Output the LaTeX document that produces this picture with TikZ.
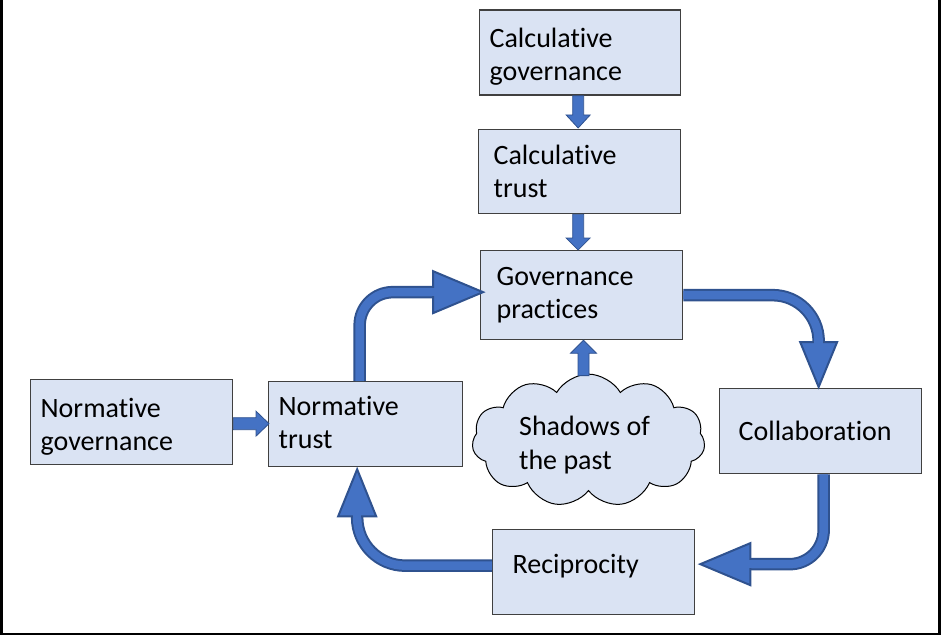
\documentclass[tikz,border=0pt]{standalone}
\usepackage{fontspec}
\setmainfont{Carlito}[RawFeature={-liga}]
\usetikzlibrary{calc,shapes.symbols}
\definecolor{boxfill}{HTML}{DAE3F3}
\definecolor{boxline}{HTML}{404040}
\definecolor{arrfill}{HTML}{4472C4}
\definecolor{arrline}{HTML}{2F528F}
\newcommand{\upstrut}[1]{\rule{0pt}{#1pt}}
\newcommand{\dnstrut}[1]{\rule[-#1pt]{0pt}{0pt}}
\begin{document}
\begin{tikzpicture}[x=1pt,y=-1pt,
  box/.style={draw=boxline, fill=boxfill, line width=1.3pt, inner ysep=0pt,
    minimum height=85pt, align=left, anchor=north west,
    font=\fontsize{28}{33}\selectfont},
  smallarr/.style={fill=arrfill, draw=arrline, line width=0.8pt, line join=miter},
  bigshaft/.style={draw=arrline, line width=2pt, double=arrfill, double distance=8.5pt},
  bighead/.style={fill=arrfill, draw=arrline, line width=2pt, line join=miter},
  bigcover/.style={draw=arrfill, line width=8.5pt}]
\useasboundingbox (0,0) rectangle (941,636);
\draw[line width=2.5pt, black] (1.5,-10) rectangle (939.5,634);

% boxes
\node[box, inner xsep=10pt, text width=181pt] (cg) at (479,9.5) {\upstrut{28}Calculative\\governance};
\node[box, inner xsep=15pt, text width=172pt, minimum height=84pt] (ct) at (478,129) {Calculative\\trust};
\node[box, inner xsep=16pt, text width=170pt, minimum height=89pt] (gp) at (480,250) {Governance\\practices};
\node[box, inner xsep=10pt, text width=182pt] (ng) at (30,379) {\upstrut{28}Normative\\governance};
\node[box, inner xsep=10pt, text width=174pt] (nt) at (268,381) {Normative\\trust\dnstrut{4}};
\node[box, inner xsep=19pt, text width=164pt] (co) at (719,388) {Collaboration};
\node[box, inner xsep=20pt, text width=162pt] (re) at (492,529) {Reciprocity\dnstrut{16}};
\node[cloud, cloud puffs=11, cloud puff arc=120, aspect=2.1, cloud ignores aspect,
  minimum width=233pt, minimum height=111pt, draw=black, fill=boxfill, line width=1pt,
  align=left, font=\fontsize{28}{34}\selectfont] (cl) at (588.5,440.5) {\upstrut{28}Shadows of\hspace*{8pt}\\the past};

% small straight arrows
\coordinate (s1) at ($(cg.south)+(-2,0)$);
\coordinate (e1) at ($(ct.north)+(-1.5,-1)$);
\filldraw[smallarr] ($(s1)+(-5.5,0)$) -- ($(e1)+(-5.5,-13)$) -- ($(e1)+(-12,-13)$) -- (e1)
  -- ($(e1)+(12,-13)$) -- ($(e1)+(5.5,-13)$) -- ($(s1)+(5.5,0)$) -- cycle;
\coordinate (s2) at ($(ct.south)+(-1.5,0)$);
\coordinate (e2) at ($(gp.north)+(-3.5,0)$);
\filldraw[smallarr] ($(s2)+(-5.5,0)$) -- ($(e2)+(-5.5,-12)$) -- ($(e2)+(-12,-12)$) -- (e2)
  -- ($(e2)+(12,-12)$) -- ($(e2)+(5.5,-12)$) -- ($(s2)+(5.5,0)$) -- cycle;
\coordinate (s3) at ($(cl.north)+(-5,2)$);
\coordinate (e3) at ($(gp.south)+(2.5,0)$);
\filldraw[smallarr] ($(s3)+(-5.5,0)$) -- ($(e3 -| s3)+(-5.5,13)$) -- ($(e3 -| s3)+(-13,13)$) -- (e3 -| s3)
  -- ($(e3 -| s3)+(13,13)$) -- ($(e3 -| s3)+(5.5,13)$) -- ($(s3)+(5.5,0)$) -- cycle;
\coordinate (s4) at ($(ng.east)+(0,1.5)$);
\coordinate (e4) at ($(nt.west)+(1,-0.5)$);
\filldraw[smallarr] ($(s4)+(0,-6)$) -- ($(e4)+(-13,-6)$) -- ($(e4)+(-13,-12.5)$) -- (e4)
  -- ($(e4)+(-13,12.5)$) -- ($(e4)+(-13,6)$) -- ($(s4)+(0,6)$) -- cycle;

% big bent arrows
% 1: Normative trust -> Governance practices
\coordinate (a1s) at ($(nt.north)+(-6,0)$);
\coordinate (a1t) at ($(gp.west)+(3,-3)$);
\coordinate (a1b) at ($(a1t)+(-50,0)$);
\draw[bigshaft, rounded corners=33pt] (a1s) -- (a1s |- a1t) -- ($(a1b)+(2,0)$);
\filldraw[bighead] ($(a1b)+(0,-21)$) -- (a1t) -- ($(a1b)+(0,21)$) -- cycle;
\draw[bigcover] ($(a1b)+(-4,0)$) -- ($(a1b)+(2,0)$);
% 2: Governance practices -> Collaboration
\coordinate (a2s) at (gp.east);
\coordinate (a2t) at ($(co.north)+(-2,-1)$);
\coordinate (a2b) at ($(a2t)+(0,-45)$);
\draw[bigshaft, rounded corners=46pt] (a2s) -- (a2s -| a2t) -- ($(a2b)+(0,2)$);
\filldraw[bighead] ($(a2b)+(-18.5,0)$) -- (a2t) -- ($(a2b)+(18.5,0)$) -- cycle;
\draw[bigcover] ($(a2b)+(0,-4)$) -- ($(a2b)+(0,2)$);
% 3: Collaboration -> Reciprocity
\coordinate (a3s) at ($(co.south)+(3,0)$);
\coordinate (a3t) at ($(re.east)+(5,-8)$);
\coordinate (a3b) at ($(a3t)+(50,0)$);
\draw[bigshaft, rounded corners=34pt] (a3s) -- (a3s |- a3t) -- ($(a3b)+(-2,0)$);
\filldraw[bighead] ($(a3b)+(0,-21)$) -- (a3t) -- ($(a3b)+(0,21)$) -- cycle;
\draw[bigcover] ($(a3b)+(4,0)$) -- ($(a3b)+(-2,0)$);
% 4: Reciprocity -> Normative trust
\coordinate (a4s) at ($(re.west)+(0,-6.5)$);
\coordinate (a4t) at ($(nt.south)+(-8.5,2)$);
\coordinate (a4b) at ($(a4t)+(0,47)$);
\draw[bigshaft, rounded corners=48pt] (a4s) -- (a4s -| a4t) -- ($(a4b)+(0,-2)$);
\filldraw[bighead] ($(a4b)+(-19,0)$) -- (a4t) -- ($(a4b)+(19,0)$) -- cycle;
\draw[bigcover] ($(a4b)+(0,4)$) -- ($(a4b)+(0,-2)$);
\end{tikzpicture}
\end{document}
